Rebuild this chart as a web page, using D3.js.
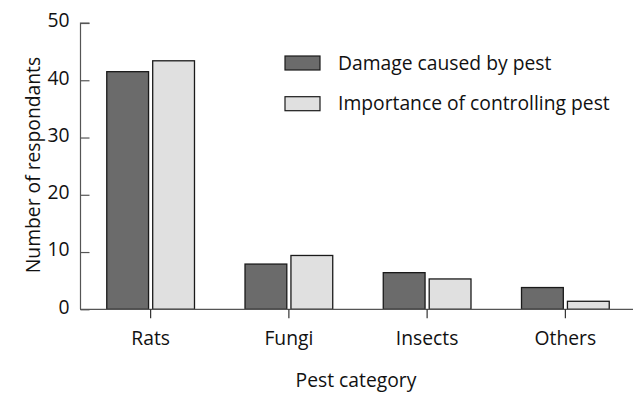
<!DOCTYPE html>
<html>
<head>
<meta charset="utf-8">
<script src="https://cdn.jsdelivr.net/npm/d3@7"></script>
<style>
  html, body { margin: 0; padding: 0; background: #fff; }
  svg { display: block; }
  text { font-family: "Open Sans", "Noto Sans", sans-serif; fill: #111; }
</style>
</head>
<body>
<svg id="chart" width="633" height="394"></svg>
<script>
// Survey responses per pest category
const categories = ["Rats", "Fungi", "Insects", "Others"];
const damage = [41.5, 7.9, 6.4, 3.8];
const importance = [43.4, 9.4, 5.3, 1.4];
const seriesNames = ["Damage caused by pest", "Importance of controlling pest"];
const yTicks = [0, 10, 20, 30, 40, 50];

const colors = ["#6b6b6b", "#e0e0e0"];
const fontSize = "19.3px";
const svg = d3.select("#chart");

const x0 = d3.scaleBand().domain(categories).range([81.5, 634.5]).paddingInner(0).paddingOuter(0);
const x1 = d3.scaleBand().domain([0, 1]).range([0, x0.bandwidth()]).paddingInner(0.09).paddingOuter(0.55);
const y = d3.scaleLinear().domain([0, 50]).range([309.3, 23]);

const series = [damage, importance];

// Bars
const groups = svg.append("g").selectAll("g")
  .data(categories)
  .join("g")
  .attr("transform", d => `translate(${x0(d)},0)`);

groups.selectAll("rect")
  .data((d, i) => series.map((s, k) => ({ k, v: s[i] })))
  .join("rect")
  .attr("x", d => x1(d.k))
  .attr("width", x1.bandwidth())
  .attr("y", d => y(d.v))
  .attr("height", d => y(0) - y(d.v))
  .attr("fill", d => colors[d.k])
  .attr("stroke", "#1a1a1a")
  .attr("stroke-width", 1.3);

// Y axis with inward ticks
const yAxis = d3.axisRight(y).tickValues(yTicks).tickSize(9).tickFormat(d3.format("d"));
const yg = svg.append("g").attr("transform", "translate(80.5,0)").call(yAxis);
yg.select(".domain").attr("stroke", "#555").attr("stroke-width", 1.2).attr("d", `M9,${y(50)}H0V${y(0)}`);
yg.selectAll(".tick line").attr("stroke", "#555").attr("stroke-width", 1.2);
yg.selectAll(".tick text")
  .attr("x", -11).attr("text-anchor", "end").attr("dy", "0.2em")
  .style("font-size", fontSize).style("font-family", "'Open Sans', sans-serif").attr("fill", "#111");

// X axis with downward ticks at group centers
const xAxis = d3.axisBottom(x0).tickSize(9).tickSizeOuter(0);
const xg = svg.append("g").attr("transform", `translate(0,${y(0)})`).call(xAxis);
xg.select(".domain").attr("stroke", "#555").attr("stroke-width", 1.2).attr("d", "M80,0H633");
xg.selectAll(".tick line").attr("stroke", "#333").attr("stroke-width", 1.2);
xg.selectAll(".tick text")
  .attr("y", 36).attr("dy", null)
  .style("font-size", fontSize).style("font-family", "'Open Sans', sans-serif").attr("fill", "#111");

// Axis titles
svg.append("text")
  .attr("x", 356).attr("y", 387)
  .attr("text-anchor", "middle")
  .style("font-size", fontSize)
  .text("Pest category");

svg.append("text")
  .attr("transform", "translate(40,165) rotate(-90)")
  .attr("text-anchor", "middle")
  .style("font-size", fontSize)
  .text("Number of respondants");

// Legend
const legend = svg.append("g");
seriesNames.forEach((name, k) => {
  const yy = 56 + k * 40.7;
  legend.append("rect")
    .attr("x", 285).attr("y", yy).attr("width", 35).attr("height", 14)
    .attr("fill", colors[k]).attr("stroke", "#1a1a1a").attr("stroke-width", 1.2);
  legend.append("text")
    .attr("x", 338).attr("y", yy + 13.5)
    .style("font-size", fontSize)
    .text(name);
});
</script>
</body>
</html>
